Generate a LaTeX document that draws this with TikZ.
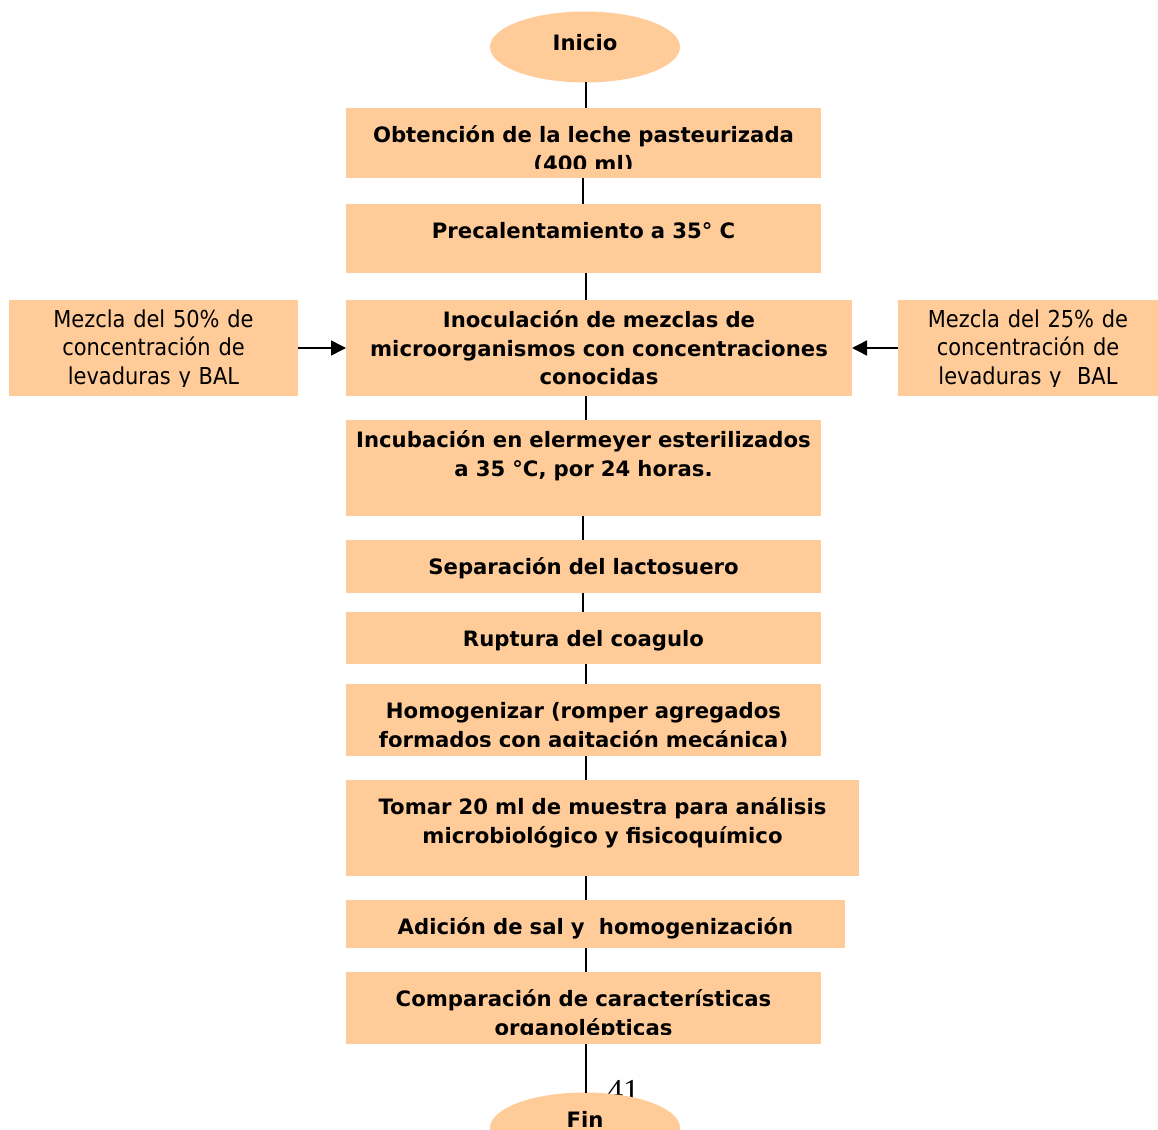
\documentclass[tikz,border=0pt]{standalone}
\usepackage{fontspec}
\setmainfont{DejaVu Sans}
\newfontfamily\sidefont{DejaVu Sans Condensed}
\newfontfamily\pagefont{Liberation Serif}
\usetikzlibrary{shapes.geometric,arrows.meta}
\definecolor{boxfill}{HTML}{FFCC99}

\tikzset{
  stepbox/.style={rectangle, fill=boxfill, draw=none, inner sep=0pt, outer sep=0pt},
  endcap/.style={ellipse, fill=boxfill, draw=none, inner sep=0pt, outer sep=0pt,
    minimum width=190pt, minimum height=71pt},
  steptext/.style={font=\bfseries\fontsize{21.2}{28.5}\selectfont, align=center,
    inner sep=0pt, anchor=base},
  sidetext/.style={font=\sidefont\fontsize{23.3}{28.5}\selectfont, align=center,
    inner sep=0pt, anchor=base},
  link/.style={draw=black, line width=1.5pt},
  feed/.style={link, -{Triangle[length=15pt,width=15pt]}},
}

% #1 name, #2 x1, #3 y1, #4 x2, #5 y2, #6 first baseline below top, #7 text style, #8 text
\newcommand\flowbox[8]{%
  \pgfmathsetmacro\boxw{#4-#2}%
  \pgfmathsetmacro\boxh{#5-#3}%
  \pgfmathsetmacro\textw{#4-#2+120}%
  \node[stepbox, minimum width=\boxw pt, minimum height=\boxh pt] (#1)
    at ({(#2+#4)/2},{(#3+#5)/2}) {};
  \begin{scope}
    \clip ([yshift=10pt]#1.south west) rectangle (#1.north east);
    \node[#7, text width=\textw pt] (#1-t) at ({(#2+#4)/2},{#3+#6}) {#8};
  \end{scope}}

\begin{document}
\begin{tikzpicture}[x=1pt,y=-1pt]
\useasboundingbox (0,0) rectangle (1158,1129);
\clip (0,0) rectangle (1158,1129);

% vertical guides for the main connector line
\coordinate (spine) at (586,0);
\coordinate (spineb) at (583,0);

% start
\node[endcap] (start) at (585,47) {};
\node[steptext] (start-t) at (585,51) {Inicio};

% process steps
\flowbox{b1}{346}{108}{821}{178}{34.5}{steptext}{Obtención de la leche pasteurizada\\(400 ml)}
\flowbox{b2}{346}{204}{821}{273}{34.5}{steptext}{Precalentamiento a 35° C}
\flowbox{b3}{346}{300}{852}{396}{27.5}{steptext}{Inoculación de mezclas de\\microorganismos con concentraciones\\conocidas}
\flowbox{mixl}{9}{300}{298}{396}{27}{sidetext}{Mezcla del 50\% de\\concentración de\\levaduras y BAL}
\flowbox{mixr}{898}{300}{1158}{396}{27}{sidetext}{Mezcla del 25\% de\\concentración de\\levaduras y\ \ BAL}
\flowbox{b4}{346}{420}{821}{516}{27.5}{steptext}{Incubación en elermeyer esterilizados\\a 35 °C, por 24 horas.}
\flowbox{b5}{346}{540}{821}{593}{34.5}{steptext}{Separación del lactosuero}
\flowbox{b6}{346}{612}{821}{664}{34.5}{steptext}{Ruptura del coagulo}
\flowbox{b7}{346}{684}{821}{756}{34.5}{steptext}{Homogenizar (romper agregados\\formados con agitación mecánica)}
\flowbox{b8}{346}{780}{859}{876}{34.5}{steptext}{Tomar 20 ml de muestra para análisis\\microbiológico y fisicoquímico}
\flowbox{b9}{346}{900}{845}{948}{34.5}{steptext}{Adición de sal y\ \ homogenización}
\flowbox{b10}{346}{972}{821}{1044}{34.5}{steptext}{Comparación de características\\organolépticas}

% connectors
\draw[link] (start.south -| spine) -- (b1.north -| spine);
\draw[link] (b1.south -| spineb) -- (b2.north -| spineb);
\draw[link] (b2.south -| spine) -- (b3.north -| spine);
\draw[link] (b3.south -| spine) -- (b4.north -| spine);
\draw[link] (b4.south -| spineb) -- (b5.north -| spineb);
\draw[link] (b5.south -| spineb) -- (b6.north -| spineb);
\draw[link] (b6.south -| spine) -- (b7.north -| spine);
\draw[link] (b7.south -| spine) -- (b8.north -| spine);
\draw[link] (b8.south -| spine) -- (b9.north -| spine);
\draw[link] (b9.south -| spine) -- (b10.north -| spine);
\draw[feed] (mixl.east) -- (b3.west);
\draw[feed] (mixr.west) -- (b3.east);

% page number, partly under the end cap
\node[font=\pagefont\fontsize{32}{34}\selectfont, anchor=base, inner sep=0pt] (pageno) at (623,1101) {41};

% end
\node[endcap] (stop) at (585,1128) {};
\draw[link] (b10.south -| spine) -- (stop.north -| spine);
\node[steptext] (stop-t) at (585,1127) {Fin};
\end{tikzpicture}
\end{document}
